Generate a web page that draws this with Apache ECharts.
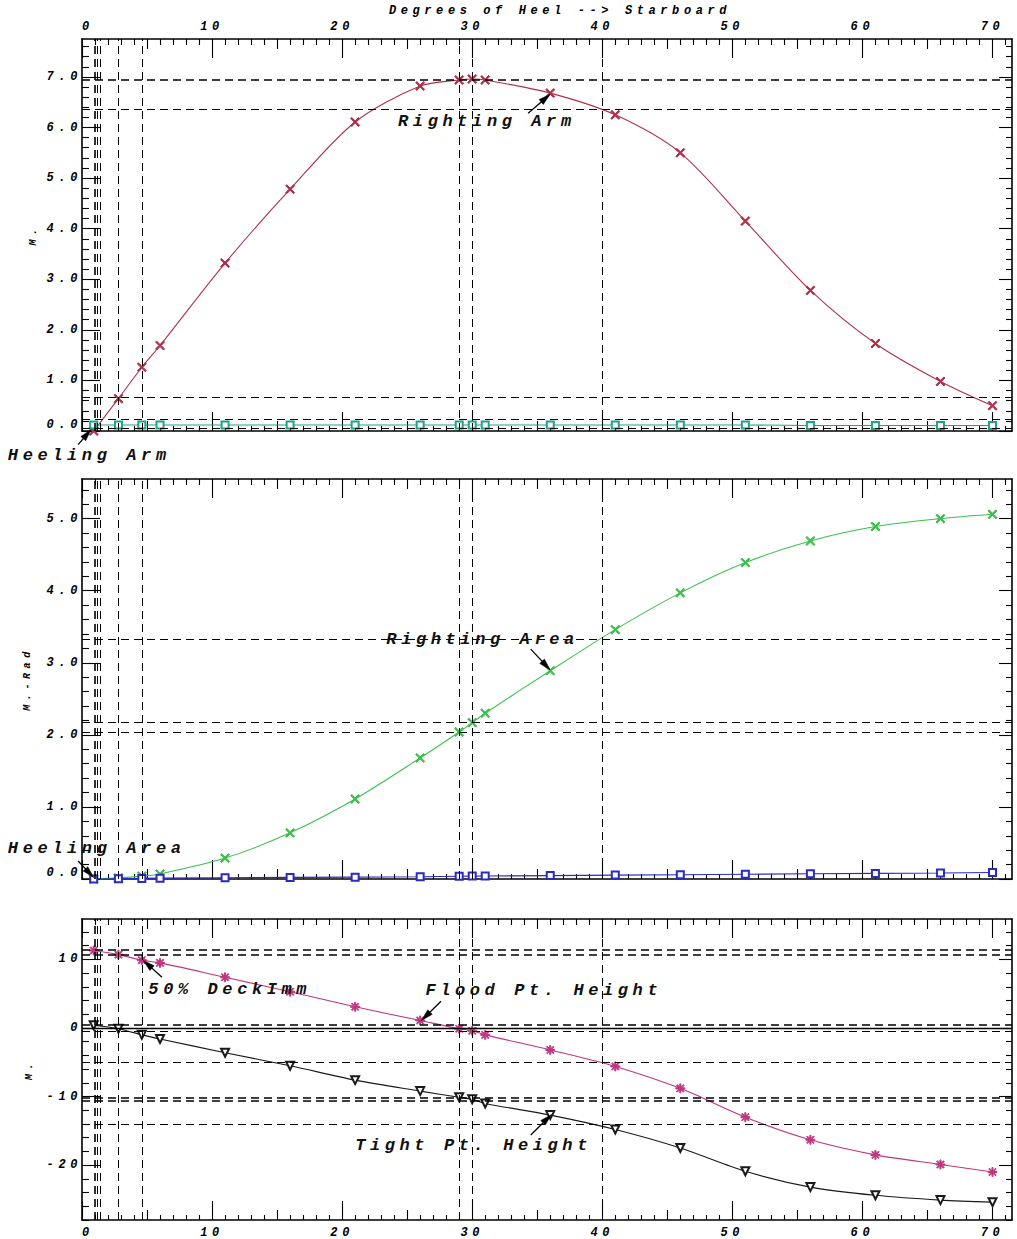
<!DOCTYPE html>
<html>
<head>
<meta charset="utf-8">
<title>Stability curves</title>
<script src="https://cdn.jsdelivr.net/npm/echarts@6/dist/echarts.min.js"></script>
<style>
  html, body { margin: 0; padding: 0; background: #fff; }
  #main { width: 1017px; height: 1239px; }
  #main text { letter-spacing: 4.6px; }
</style>
</head>
<body>
<div id="main"></div>
<script>
// ---- data -------------------------------------------------------------
const heelAngles    = [0.9, 2.8, 4.6, 6, 11, 16, 21, 26, 29, 30, 31, 36, 41, 46, 51, 56, 61, 66, 70];
const rightingArm   = [0.0, 0.64, 1.26, 1.69, 3.32, 4.78, 6.11, 6.82, 6.94, 6.96, 6.94, 6.68, 6.25, 5.50, 4.15, 2.78, 1.73, 0.98, 0.50];
const heelingArm    = [0.12, 0.12, 0.12, 0.12, 0.12, 0.12, 0.12, 0.12, 0.12, 0.12, 0.12, 0.12, 0.12, 0.12, 0.12, 0.11, 0.11, 0.11, 0.11];
const rightingArea  = [0.0, 0.015, 0.04, 0.07, 0.29, 0.64, 1.11, 1.68, 2.04, 2.17, 2.30, 2.89, 3.46, 3.97, 4.39, 4.69, 4.89, 5.00, 5.06];
const heelingArea   = [0.0, 0.004, 0.008, 0.012, 0.018, 0.022, 0.026, 0.032, 0.038, 0.04, 0.042, 0.047, 0.054, 0.06, 0.066, 0.072, 0.078, 0.083, 0.09];
const floodPtHeight = [11.3, 10.7, 9.9, 9.5, 7.4, 5.3, 3.1, 1.1, -0.1, -0.4, -1.0, -3.2, -5.6, -8.8, -13.0, -16.3, -18.5, -19.9, -21.0];
const tightPtHeight = [0.4, -0.1, -1.0, -1.6, -3.6, -5.5, -7.6, -9.2, -10.1, -10.4, -11.0, -12.7, -14.8, -17.5, -20.9, -23.2, -24.4, -25.1, -25.4];

const heelTicks   = [0, 10, 20, 30, 40, 50, 60, 70];
const armTicks    = [0, 1, 2, 3, 4, 5, 6, 7];
const areaTicks   = [0, 1, 2, 3, 4, 5];
const heightTicks = [-20, -10, 0, 10];

// heel angles and levels of the dashed guide lines
const markedAngles = [0.95, 1.15, 1.4, 2.8, 4.6, 29, 30, 40];
const armLevels    = [6.95, 6.37, 0.67, 0.24, 0.06];
const areaLevels   = [3.32, 2.17, 2.03];
const heightLevels = [11.4, 10.7, 0.47, -0.47, -5.0, -10.1, -10.6, -14.0];

// ---- styling ------------------------------------------------------------
const FONT = '"Liberation Mono", "DejaVu Sans Mono", monospace';
const INK = '#000';
const tickFont = { fontFamily: FONT, fontStyle: 'italic', fontWeight: 'bold', fontSize: 12, color: INK };
const heavyLevels = new Set([6.95, 11.4, 10.7, 0.47, -10.1, -10.6]);

const X_MAX = 71.5;
const panels = [
  { grid: { left: 82, top: 39, width: 930, height: 392 }, min: 0,   max: 7.75, ticks: armTicks,    minorStep: 0.2, digits: 1, name: 'M.',     nameGap: 44 },
  { grid: { left: 82, top: 479, width: 930, height: 400 }, min: 0,   max: 5.55, ticks: areaTicks,   minorStep: 0.2, digits: 1, name: 'M.-Rad', nameGap: 50 },
  { grid: { left: 82, top: 919, width: 930, height: 307 }, min: -28, max: 15.9, ticks: heightTicks, minorStep: 2,   digits: 0, name: 'M.',     nameGap: 48 }
];

function steps(from, to, step, skip) {
  const out = [];
  for (let v = from; v <= to + 1e-9; v += step) {
    const r = Math.round(v * 1000) / 1000;
    if (!skip || !skip(r)) out.push(r);
  }
  return out;
}

// an axis that only carries a set of tick marks
function tickAxis(gridIndex, position, min, max, values, length, extra) {
  return Object.assign({
    type: 'value', gridIndex, position, min, max,
    axisLine: { show: false, onZero: false },
    axisTick: { show: true, inside: true, length, customValues: values, lineStyle: { color: INK, width: 1.1 } },
    axisLabel: { show: false, customValues: values },
    splitLine: { show: false }
  }, extra || {});
}

const xAxes = [], yAxes = [];
const heelMid = steps(5, 70, 10);
const heelMinor = steps(1, 71, 1, v => v % 5 === 0);

panels.forEach((p, i) => {
  const solidLine = { show: true, onZero: false, lineStyle: { color: INK, width: 1.6 } };
  // bottom edge
  xAxes.push(tickAxis(i, 'bottom', 0, X_MAX, heelTicks, 19, {
    axisLine: solidLine,
    axisLabel: Object.assign({ show: i === 2, customValues: heelTicks, margin: 7, alignMinLabel: 'left' }, tickFont)
  }));
  xAxes.push(tickAxis(i, 'bottom', 0, X_MAX, heelMid, 10));
  xAxes.push(tickAxis(i, 'bottom', 0, X_MAX, heelMinor, 5));
  // top edge
  xAxes.push(tickAxis(i, 'top', 0, X_MAX, heelTicks, 19, Object.assign({
    axisLine: solidLine,
    axisLabel: Object.assign({ show: i === 0, customValues: heelTicks, margin: 6, alignMinLabel: 'left' }, tickFont)
  }, i === 0 ? {
    name: 'Degrees of Heel --> Starboard', nameLocation: 'middle', nameGap: 22,
    nameTextStyle: { fontFamily: FONT, fontStyle: 'italic', fontWeight: 'bold', fontSize: 12, color: INK, padding: [0, 0, 0, 26] }
  } : {})));
  xAxes.push(tickAxis(i, 'top', 0, X_MAX, heelMid, 10));
  xAxes.push(tickAxis(i, 'top', 0, X_MAX, heelMinor, 6));

  const minor = steps(p.min, p.max, p.minorStep, v => p.ticks.some(t => Math.abs(t - v) < 1e-6));
  yAxes.push(tickAxis(i, 'left', p.min, p.max, p.ticks, 18, {
    axisLine: solidLine,
    name: p.name, nameLocation: 'middle', nameRotate: 90, nameGap: p.nameGap,
    nameTextStyle: { fontFamily: FONT, fontStyle: 'italic', fontWeight: 'bold', fontSize: 10, color: INK },
    axisLabel: Object.assign({
      show: true, customValues: p.ticks, margin: 0,
      formatter: v => v.toFixed(p.digits),
      verticalAlignMinLabel: p.min === 0 ? 'bottom' : null
    }, tickFont)
  }));
  yAxes.push(tickAxis(i, 'left', p.min, p.max, minor, 7));
  yAxes.push(tickAxis(i, 'right', p.min, p.max, p.ticks, 13, { axisLine: solidLine }));
  yAxes.push(tickAxis(i, 'right', p.min, p.max, minor, 6));
});

// dashed guide lines for one panel
function guides(levels) {
  const data = markedAngles.map((a, k) => ({ xAxis: a, lineStyle: { width: k === 0 ? 1.6 : 1 } }));
  levels.forEach(v => data.push({ yAxis: v, lineStyle: { width: heavyLevels.has(v) ? 1.6 : 1 } }));
  return {
    silent: true, symbol: ['none', 'none'], label: { show: false },
    lineStyle: { color: INK, type: [8, 5], width: 1, opacity: 1 },
    emphasis: { disabled: true },
    data
  };
}

const crossMark = 'path://M0,1.2L1.2,0L5,3.8L8.8,0L10,1.2L6.2,5L10,8.8L8.8,10L5,6.2L1.2,10L0,8.8L3.8,5Z';
const starMark = 'path://M4.4,0H5.6V10H4.4Z M0,4.4H10V5.6H0Z M0.8,1.6L1.6,0.8L9.2,8.4L8.4,9.2Z M8.4,0.8L9.2,1.6L1.6,9.2L0.8,8.4Z';

function pairs(values) { return heelAngles.map((a, k) => [a, values[k]]); }

function curve(panel, name, values, color, symbol, size, extra) {
  return Object.assign({
    type: 'line', name,
    xAxisIndex: panel * 6, yAxisIndex: panel * 4,
    data: pairs(values),
    smooth: 0.3,
    symbol, symbolSize: size, showAllSymbol: true,
    lineStyle: { color, width: 1.1 },
    itemStyle: { color, borderColor: color, borderWidth: 1 },
    emphasis: { disabled: true },
    z: 3
  }, extra || {});
}

const series = [
  curve(0, 'Righting Arm', rightingArm, '#b0304c', crossMark, 9, { markLine: guides(armLevels) }),
  curve(0, 'Heeling Arm', heelingArm, '#1ea486', 'emptyRect', 7, { smooth: false }),
  curve(1, 'Righting Area', rightingArea, '#3cc04c', crossMark, 9, { markLine: guides(areaLevels) }),
  curve(1, 'Heeling Area', heelingArea, '#2a2ac4', 'emptyRect', 7, { smooth: false }),
  curve(2, 'Flood Pt. Height', floodPtHeight, '#c0367f', starMark, 9, {
    markLine: (() => { const m = guides(heightLevels); m.data.push({ yAxis: 0, lineStyle: { type: 'solid', width: 1.4 } }); return m; })()
  }),
  curve(2, 'Tight Pt. Height', tightPtHeight, '#1a1a1a', 'emptyTriangle', 8, { symbolRotate: 180 })
];

const chart = echarts.init(document.getElementById('main'), null, { renderer: 'svg' });
chart.setOption({
  animation: false,
  backgroundColor: '#fff',
  grid: panels.map(p => Object.assign({ containLabel: false }, p.grid)),
  xAxis: xAxes,
  yAxis: yAxes,
  series
});

// ---- labels with pointer arrows, placed in data coordinates ----------------
const callouts = [
  { panel: 0, text: 'Righting Arm',     at: [24.3, 6.11],  tail: [34.3, 6.28],  tip: [36.0, 6.66] },
  { panel: 0, text: 'Heeling Arm',      at: [-5.7, -0.49], tail: [-0.3, -0.27], tip: [0.7, 0.03] },
  { panel: 1, text: 'Righting Area',    at: [23.4, 3.32],  tail: [34.5, 3.19],  tip: [36.0, 2.9] },
  { panel: 1, text: 'Heeling Area',     at: [-5.7, 0.42],  tail: [-0.3, 0.25],  tip: [0.9, 0.02] },
  { panel: 2, text: '50% DeckImm',      at: [5.1, 5.57],   tail: [6.15, 7.4],   tip: [4.7, 9.9] },
  { panel: 2, text: 'Flood Pt. Height', at: [26.4, 5.4],   tail: [27.6, 3.9],   tip: [26.1, 1.1] },
  { panel: 2, text: 'Tight Pt. Height', at: [21.0, -17.1], tail: [34.5, -15.6], tip: [36.1, -12.6] }
];

function toPixel(panel, pt) {
  return chart.convertToPixel({ xAxisIndex: panel * 6, yAxisIndex: panel * 4 }, pt);
}

const graphics = [];
callouts.forEach(c => {
  const a = toPixel(c.panel, c.at);
  const t0 = toPixel(c.panel, c.tail);
  const t1 = toPixel(c.panel, c.tip);
  graphics.push({
    type: 'text', x: a[0], y: a[1], z: 10,
    style: { text: c.text, fontFamily: FONT, fontStyle: 'italic', fontWeight: 'bold', fontSize: 17, fill: '#111', align: 'left', verticalAlign: 'middle' }
  });
  const dx = t1[0] - t0[0], dy = t1[1] - t0[1];
  const len = Math.hypot(dx, dy) || 1;
  const ux = dx / len, uy = dy / len;
  const head = 12, half = 3.2;
  const bx = t1[0] - ux * head, by = t1[1] - uy * head;
  graphics.push({
    type: 'line', z: 10,
    shape: { x1: t0[0], y1: t0[1], x2: bx + ux * 2, y2: by + uy * 2 },
    style: { stroke: '#000', lineWidth: 1.3 }
  });
  graphics.push({
    type: 'polygon', z: 10,
    shape: { points: [[t1[0], t1[1]], [bx - uy * half, by + ux * half], [bx + uy * half, by - ux * half]] },
    style: { fill: '#000', stroke: '#000', lineWidth: 0.5 }
  });
});
chart.setOption({ graphic: graphics });
</script>
</body>
</html>
